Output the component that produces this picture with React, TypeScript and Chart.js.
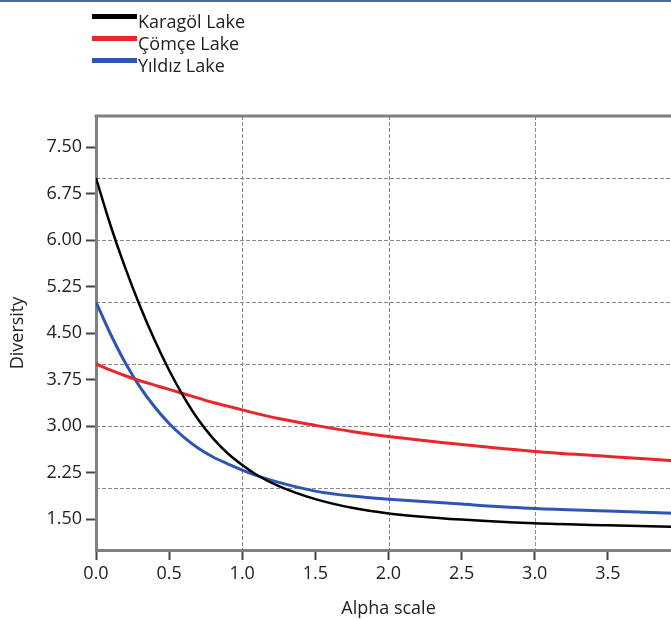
import React, { useEffect, useRef } from "react";
import { Chart, registerables } from "chart.js";

Chart.register(...registerables);

// ---- data ----
const alphaValues = [0, 0.1, 0.2, 0.3, 0.4, 0.5, 0.6, 0.7, 0.8, 0.9, 1.0, 1.1, 1.25, 1.5, 1.75, 2.0, 2.5, 3.0, 3.5, 4.0];
const karagolValues = [7.0, 6.23, 5.55, 4.94, 4.39, 3.9, 3.47, 3.1, 2.8, 2.56, 2.37, 2.21, 2.03, 1.82, 1.68, 1.59, 1.49, 1.43, 1.4, 1.37];
const comceValues = [4.0, 3.9, 3.81, 3.73, 3.66, 3.59, 3.52, 3.45, 3.38, 3.32, 3.26, 3.2, 3.12, 3.01, 2.91, 2.83, 2.7, 2.59, 2.51, 2.43];
const yildizValues = [5.0, 4.48, 4.02, 3.63, 3.31, 3.04, 2.82, 2.64, 2.5, 2.39, 2.29, 2.2, 2.09, 1.95, 1.87, 1.82, 1.74, 1.67, 1.63, 1.59];
const seriesNames = ["Karagöl Lake", "Çömçe Lake", "Yıldız Lake"];
const seriesColors = ["#000000", "#e8262b", "#2d56b3"];
const yTickValues = [1.5, 2.25, 3.0, 3.75, 4.5, 5.25, 6.0, 6.75, 7.5];
const xTickValues = [0, 0.5, 1.0, 1.5, 2.0, 2.5, 3.0, 3.5];
const yGridValues = [2, 3, 4, 5, 6, 7];
const xGridValues = [1, 2, 3];
const xTitle = "Alpha scale";
const yTitle = "Diversity";

const FONT = '"Open Sans", sans-serif';
const CANVAS_W = 700;
const CANVAS_H = 620;

const toPoints = (ys: number[]) => alphaValues.map((x, i) => ({ x, y: ys[i] }));

const gridPlugin = {
  id: "customGrid",
  beforeDatasetsDraw(chart: any) {
    const { ctx, chartArea, scales } = chart;
    ctx.save();
    ctx.strokeStyle = "#8a8a8a";
    ctx.lineWidth = 1;
    ctx.setLineDash([4, 2]);
    yGridValues.forEach((v) => {
      const y = Math.round(scales.y.getPixelForValue(v)) + 0.5;
      ctx.beginPath();
      ctx.moveTo(chartArea.left, y);
      ctx.lineTo(chartArea.right, y);
      ctx.stroke();
    });
    xGridValues.forEach((v) => {
      const x = Math.round(scales.x.getPixelForValue(v)) + 0.5;
      ctx.beginPath();
      ctx.moveTo(x, chartArea.top);
      ctx.lineTo(x, chartArea.bottom);
      ctx.stroke();
    });
    ctx.restore();
  },
};

const framePlugin = {
  id: "frameAndLegend",
  afterDraw(chart: any) {
    const { ctx, chartArea } = chart;
    ctx.save();
    // top border of plot
    ctx.strokeStyle = "#808080";
    ctx.lineWidth = 3;
    ctx.beginPath();
    ctx.moveTo(chartArea.left - 1.5, chartArea.top);
    ctx.lineTo(chart.width, chartArea.top);
    ctx.stroke();
    // blue frame line at the very top
    ctx.fillStyle = "#4d6ab0";
    ctx.fillRect(0, 0, chart.width, 2);
    // legend
    ctx.font = `18px ${FONT}`;
    ctx.textBaseline = "alphabetic";
    ctx.textAlign = "left";
    chart.data.datasets.forEach((ds: any, i: number) => {
      const base = 27.5 + i * 22;
      ctx.strokeStyle = ds.borderColor;
      ctx.lineWidth = 5;
      ctx.beginPath();
      ctx.moveTo(92, base - 11);
      ctx.lineTo(137, base - 11);
      ctx.stroke();
      ctx.fillStyle = "#222222";
      ctx.fillText(ds.label, 138, base);
    });
    ctx.restore();
  },
};

export default function App() {
  const canvasRef = useRef<HTMLCanvasElement | null>(null);

  useEffect(() => {
    const canvas = canvasRef.current;
    if (!canvas) return;
    const seriesData = [karagolValues, comceValues, yildizValues];
    const chart = new Chart(canvas, {
      type: "line",
      data: {
        datasets: seriesData.map((vals, i) => ({
          label: seriesNames[i],
          data: toPoints(vals),
          borderColor: seriesColors[i],
          backgroundColor: seriesColors[i],
          borderWidth: i === 0 ? 2.5 : 3,
          pointRadius: 0,
          fill: false,
          cubicInterpolationMode: "monotone" as const,
        })),
      },
      options: {
        responsive: false,
        animation: false,
        layout: { padding: { top: 116, left: 0, right: CANVAS_W - 681, bottom: 0 } },
        plugins: {
          legend: { display: false },
          tooltip: { enabled: false },
        },
        scales: {
          x: {
            type: "linear",
            min: 0,
            max: 4,
            afterBuildTicks: (scale: any) => {
              scale.ticks = xTickValues.map((v) => ({ value: v }));
            },
            afterFit: (scale: any) => {
              scale.height = 70;
            },
            ticks: {
              font: { family: FONT, size: 18 },
              color: "#222222",
              padding: 3,
              maxRotation: 0,
              callback: (v: any) => Number(v).toFixed(1),
            },
            grid: {
              drawOnChartArea: false,
              drawTicks: true,
              tickLength: 10,
              tickWidth: 2,
              tickColor: "#444444",
            },
            border: { display: true, color: "#808080", width: 3 },
            title: {
              display: true,
              text: xTitle,
              font: { family: FONT, size: 18 },
              color: "#222222",
              padding: { top: 0, bottom: 0 },
            },
          },
          y: {
            type: "linear",
            min: 1,
            max: 8,
            afterBuildTicks: (scale: any) => {
              scale.ticks = yTickValues.map((v) => ({ value: v }));
            },
            afterFit: (scale: any) => {
              scale.width = 96;
            },
            ticks: {
              font: { family: FONT, size: 18 },
              color: "#222222",
              padding: 4,
              callback: (v: any) => Number(v).toFixed(2),
            },
            grid: {
              drawOnChartArea: false,
              drawTicks: true,
              tickLength: 10,
              tickWidth: 2,
              tickColor: "#444444",
            },
            border: { display: true, color: "#808080", width: 3 },
            title: {
              display: true,
              text: yTitle,
              font: { family: FONT, size: 18 },
              color: "#222222",
              padding: { top: 7, bottom: 0 },
            },
          },
        },
      },
      plugins: [gridPlugin, framePlugin],
    });
    return () => chart.destroy();
  }, []);

  return (
    <div
      style={{
        position: "fixed",
        left: 0,
        top: 0,
        width: 671,
        height: 620,
        overflow: "hidden",
        background: "#ffffff",
      }}
    >
      <canvas
        ref={canvasRef}
        width={CANVAS_W}
        height={CANVAS_H}
        style={{ display: "block", width: CANVAS_W, height: CANVAS_H }}
      />
    </div>
  );
}
